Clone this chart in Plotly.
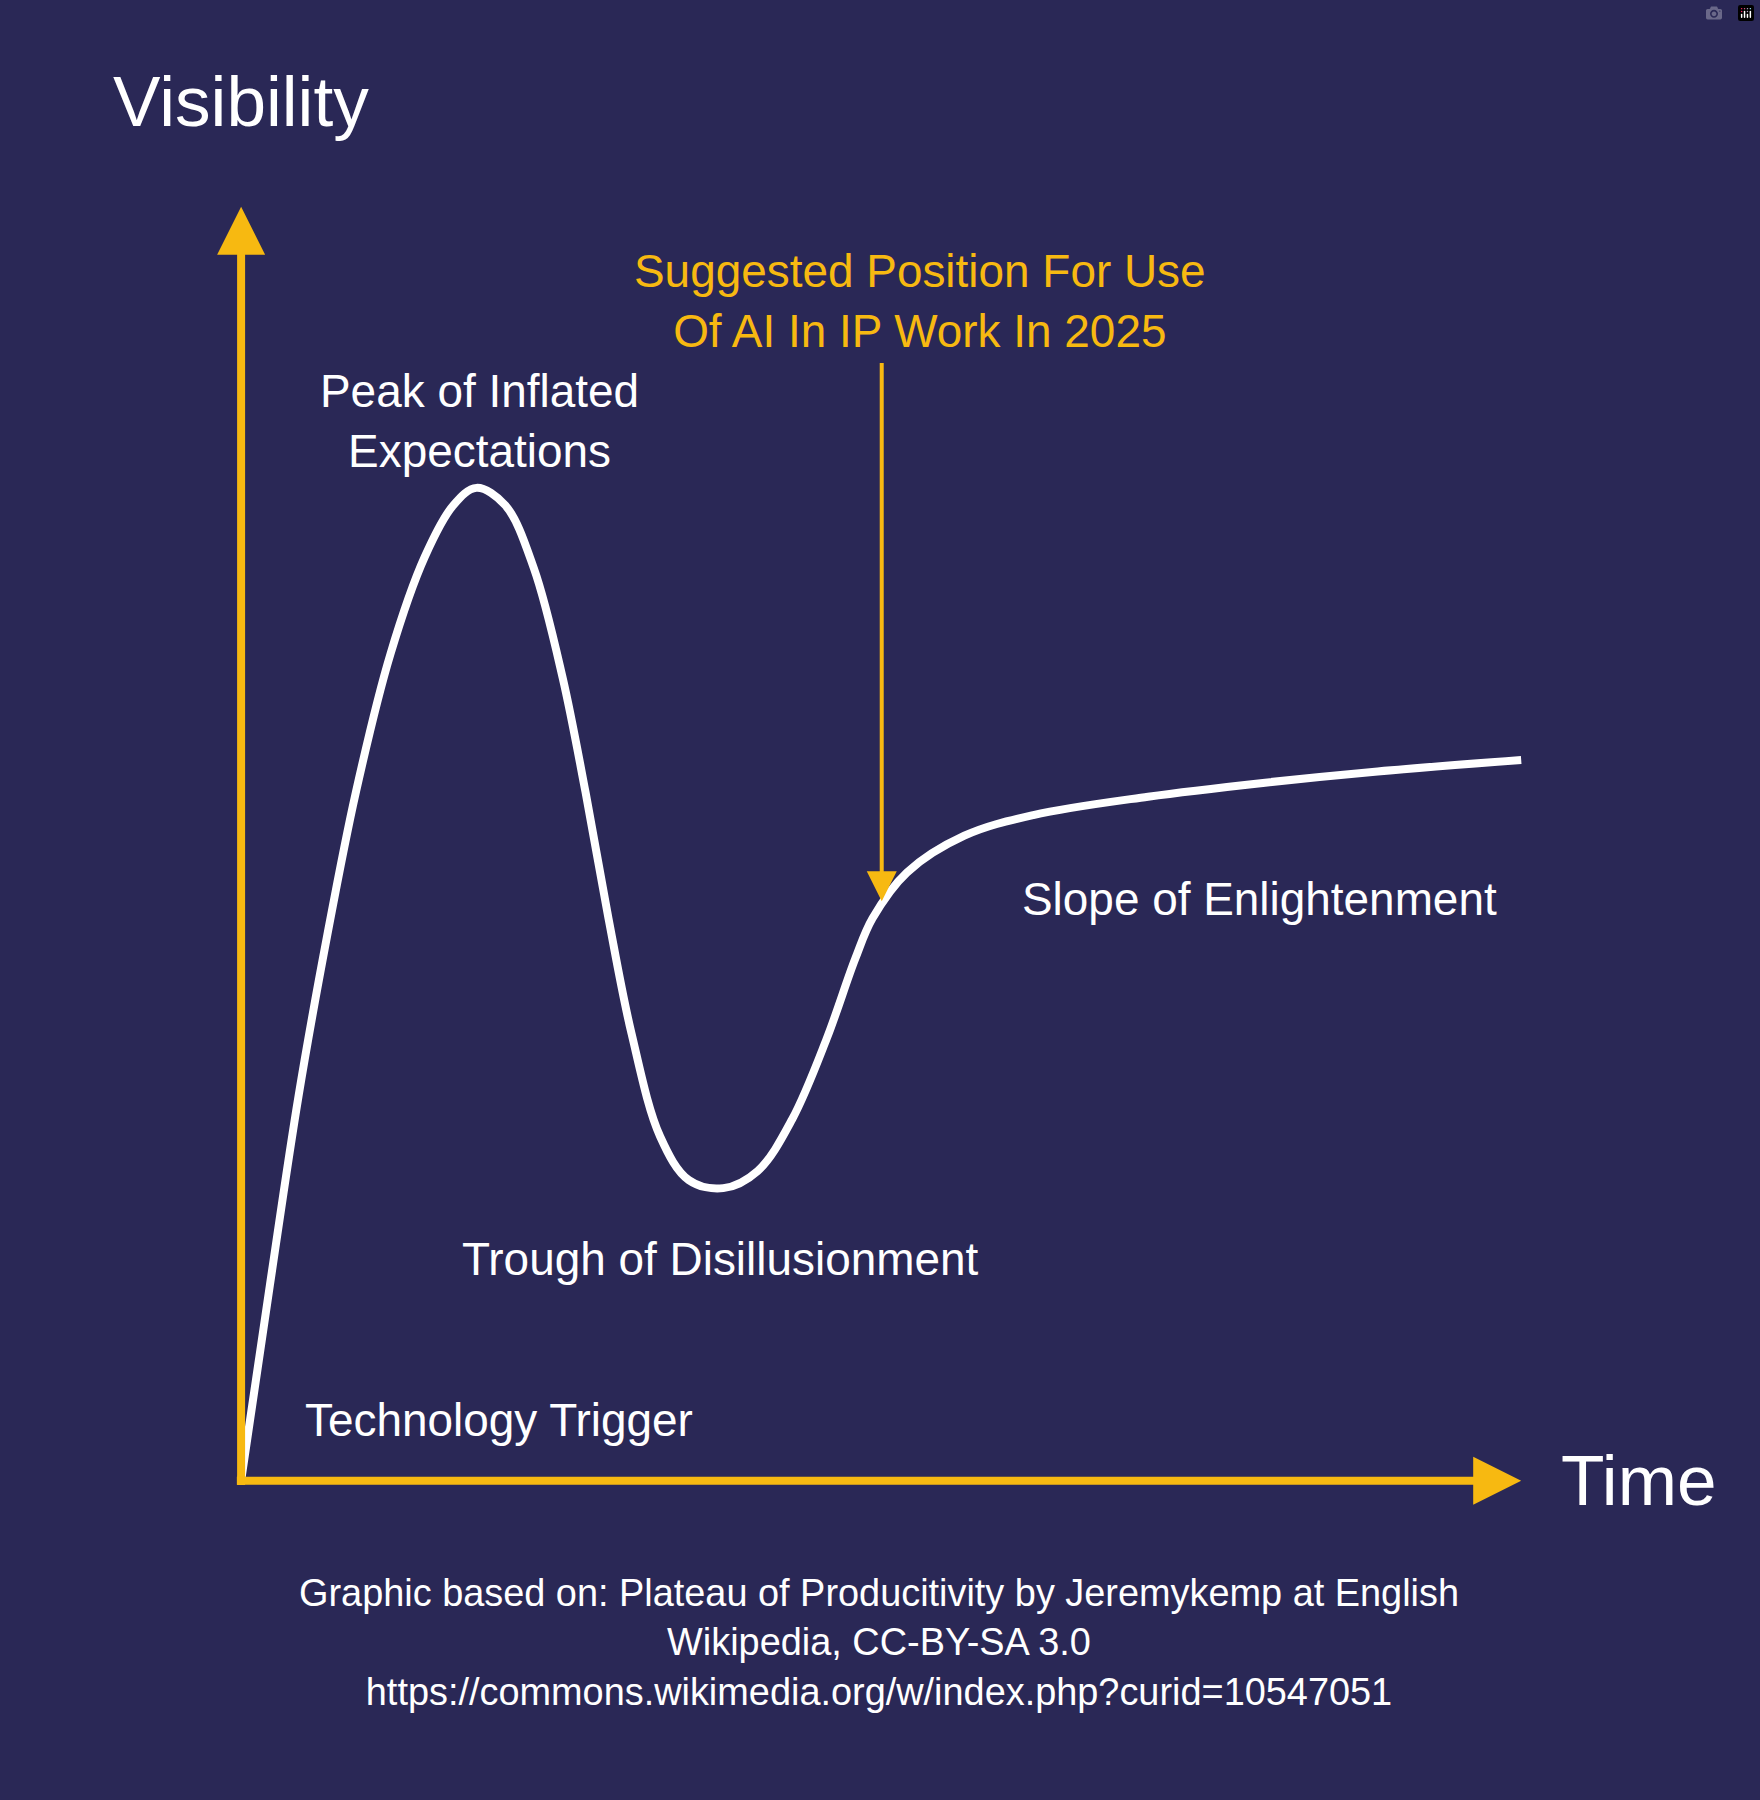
import plotly.graph_objects as go

# hype curve (image pixel units, y downwards)
curve_x = [210, 235, 260, 285, 310, 340, 370, 395, 415, 440, 465, 490, 510, 530, 550, 575, 600, 630, 660, 690, 720, 745, 760, 790, 840, 900, 1000, 1100, 1200, 1325]
curve_y = [1290, 1120, 955, 815, 690, 570, 485, 440, 425, 440, 495, 590, 690, 800, 900, 990, 1028, 1035, 1020, 975, 905, 835, 800, 760, 728, 710, 694, 682, 672, 662]

labels = ["Peak of Inflated<br>Expectations", "Trough of Disillusionment",
          "Technology Trigger", "Slope of Enlightenment"]
label_x = [418, 627, 435, 1097]
label_y = [367, 1097, 1237, 783]

YELLOW = "#F7B911"
BG = "#2A2856"
FONT = "Liberation Sans, Arial, sans-serif"
W, H = 1533, 1568
S = 1760 / W

fig = go.Figure()
fig.add_trace(go.Scatter(x=curve_x, y=curve_y, mode="lines",
                         line=dict(color="white", width=8, shape="spline", smoothing=1.0),
                         hoverinfo="skip"))

ann = []
# axes arrows
ann.append(dict(x=210, y=180, ax=210, ay=1295, xref="x", yref="y", axref="x", ayref="y",
                showarrow=True, arrowhead=2, arrowsize=1.2, arrowwidth=8, arrowcolor=YELLOW, text=""))
ann.append(dict(x=1325, y=1290, ax=205, ay=1290, xref="x", yref="y", axref="x", ayref="y",
                showarrow=True, arrowhead=2, arrowsize=1.2, arrowwidth=8, arrowcolor=YELLOW, text=""))
# suggested position arrow
ann.append(dict(x=768, y=785, ax=768, ay=315, xref="x", yref="y", axref="x", ayref="y",
                showarrow=True, arrowhead=2, arrowsize=1.5, arrowwidth=4, arrowcolor=YELLOW, text=""))

def txt(t, x, y, size, color="white"):
    return dict(text=t, x=x, y=y, xref="x", yref="y", showarrow=False,
                font=dict(family=FONT, size=size * S, color=color))

ann.append(txt("Visibility", 210, 88, 62))
ann.append(txt("Time", 1428, 1290, 62))
ann.append(txt("Suggested Position For Use<br>Of AI In IP Work In 2025", 801, 262, 40, YELLOW))
for t, x, y in zip(labels, label_x, label_y):
    ann.append(txt(t, x, y, 40))
ann.append(txt("Graphic based on: Plateau of Producitivity by Jeremykemp at English<br>Wikipedia, CC-BY-SA 3.0<br>https://commons.wikimedia.org/w/index.php?curid=10547051",
               766, 1431, 33))

fig.update_layout(
    width=1760, height=1800, margin=dict(l=0, r=0, t=0, b=0),
    paper_bgcolor=BG, plot_bgcolor=BG, showlegend=False,
    xaxis=dict(range=[0, W], visible=False, fixedrange=True),
    yaxis=dict(range=[H, 0], visible=False, fixedrange=True),
    annotations=ann,
)
fig.write_html("out.html", post_script="document.body.style.margin='0';document.body.style.background='#2A2856';")
